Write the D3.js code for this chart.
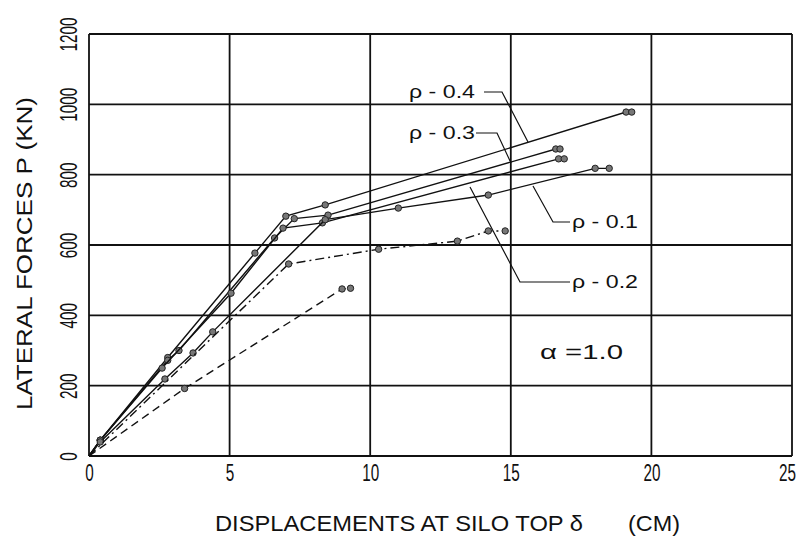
<!DOCTYPE html>
<html><head><meta charset="utf-8">
<script src="https://cdn.jsdelivr.net/npm/d3@7/dist/d3.min.js"></script>
<style>
html,body{margin:0;padding:0;background:#fff;}
svg{display:block;}
text{font-family:"Liberation Sans","DejaVu Sans",sans-serif;fill:#111;}
</style></head>
<body>
<svg id="chart" width="808" height="538"></svg>
<script>
// ---- data ----
const xTicks = [0, 5, 10, 15, 20, 25];
const yTicks = [0, 200, 400, 600, 800, 1000, 1200];

const rho04X = [0, 0.4, 2.8, 5.9, 7.0, 8.4, 19.1, 19.3];
const rho04P = [0, 45, 280, 577, 682, 714, 978, 978];

const rho03X = [0, 0.4, 2.8, 3.2, 6.6, 7.3, 8.5, 16.6, 16.75];
const rho03P = [0, 45, 272, 300, 620, 675, 685, 873, 873];

const rho02X = [0, 0.4, 2.6, 5.05, 6.9, 8.3, 16.7, 16.9];
const rho02P = [0, 45, 250, 463, 648, 663, 845, 845];

const rho01X = [0, 0.4, 2.7, 3.7, 4.4, 8.4, 11.0, 14.2, 18.0, 18.5];
const rho01P = [0, 40, 219, 293, 353, 672, 705, 742, 818, 818];

const dashDotX = [0, 7.1, 10.3, 13.1, 14.2, 14.8];
const dashDotP = [0, 546, 588, 611, 640, 640];

const dashedX = [0, 3.4, 9.0, 9.3];
const dashedP = [0, 192, 475, 477];

const labelTexts = ["\u03C1 - 0.4", "\u03C1 - 0.3", "\u03C1 - 0.1", "\u03C1 - 0.2"];
const alphaText = "\u03B1 =1.0";
const xTitle = "DISPLACEMENTS AT SILO TOP \u03B4";
const xUnit = "(CM)";
const yTitle = "LATERAL FORCES P (KN)";

// ---- layout ----
const svg = d3.select("#chart");
const L = 89, R = 792, T = 34, B = 456;
const x = d3.scaleLinear().domain([0, 25]).range([L, R]);
const y = d3.scaleLinear().domain([0, 1200]).range([B, T]);

// grid
const g = svg.append("g");
g.selectAll(".vg").data(xTicks).join("line")
  .attr("x1", d => x(d)).attr("x2", d => x(d)).attr("y1", T).attr("y2", B)
  .attr("stroke", "#111").attr("stroke-width", 1.8);
g.selectAll(".hg").data(yTicks).join("line")
  .attr("y1", d => y(d)).attr("y2", d => y(d)).attr("x1", L).attr("x2", R)
  .attr("stroke", "#111").attr("stroke-width", 1.8);

const digitW = 8.5;
// axes (labels only, drawn through d3 axis)
const xAxis = svg.append("g").attr("transform", `translate(0,${B})`)
  .call(d3.axisBottom(x).tickValues(xTicks).tickSize(0).tickPadding(9).tickFormat(d3.format("d")));
xAxis.select(".domain").remove();
xAxis.selectAll("text").attr("font-size", 23).attr("font-family", null)
  .attr("textLength", d => String(d).length * digitW).attr("lengthAdjust", "spacingAndGlyphs")
  .attr("dx", d => d === 25 ? -5 : 0);

const yAxis = svg.append("g").attr("transform", `translate(${L},0)`)
  .call(d3.axisLeft(y).tickValues(yTicks).tickSize(0).tickFormat(d3.format("d")));
yAxis.select(".domain").remove();
yAxis.selectAll("text")
  .attr("x", null).attr("dy", null)
  .attr("text-anchor", "middle")
  .attr("font-size", 23).attr("font-family", null)
  .attr("textLength", d => String(d).length * digitW).attr("lengthAdjust", "spacingAndGlyphs")
  .attr("transform", "translate(-12,0) rotate(-90)");

// series
const line = d3.line().x(d => x(d[0])).y(d => y(d[1]));
const series = [
  {xs: rho04X, ps: rho04P, dash: null},
  {xs: rho03X, ps: rho03P, dash: null},
  {xs: rho02X, ps: rho02P, dash: null},
  {xs: rho01X, ps: rho01P, dash: null},
  {xs: dashDotX, ps: dashDotP, dash: "9,4,2,4"},
  {xs: dashedX, ps: dashedP, dash: "8,5"}
];
series.forEach(s => {
  const pts = s.xs.map((v, i) => [v, s.ps[i]]);
  svg.append("path").datum(pts).attr("d", line)
    .attr("fill", "none").attr("stroke", "#111").attr("stroke-width", 1.4)
    .attr("stroke-dasharray", s.dash);
  svg.append("g").selectAll("circle").data(pts.slice(1)).join("circle")
    .attr("cx", d => x(d[0])).attr("cy", d => y(d[1])).attr("r", 3.2)
    .attr("fill", "#777").attr("stroke", "#222").attr("stroke-width", 1);
});

// labels with leader lines
const labels = [
  {t: labelTexts[0], tx: 409, ty: 98, path: [[484, 92], [502, 92], [528, 142]]},
  {t: labelTexts[1], tx: 409, ty: 139, path: [[476, 133], [497, 133], [511, 163]]},
  {t: labelTexts[2], tx: 572, ty: 228, path: [[570, 222], [553, 222], [533, 186]]},
  {t: labelTexts[3], tx: 572, ty: 288, path: [[570, 282], [520, 282], [470, 187]]}
];
labels.forEach(l => {
  svg.append("text").attr("x", l.tx).attr("y", l.ty).attr("font-size", 18)
    .attr("textLength", 66).attr("lengthAdjust", "spacingAndGlyphs").text(l.t);
  svg.append("path").attr("d", d3.line()(l.path))
    .attr("fill", "none").attr("stroke", "#111").attr("stroke-width", 1.2);
});

svg.append("text").attr("x", 540).attr("y", 359).attr("font-size", 21)
  .attr("textLength", 83).attr("lengthAdjust", "spacingAndGlyphs").text(alphaText);

// titles
svg.append("text").attr("x", 215).attr("y", 531).attr("font-size", 22)
  .attr("textLength", 368).attr("lengthAdjust", "spacingAndGlyphs").text(xTitle);
svg.append("text").attr("x", 628).attr("y", 531).attr("font-size", 22)
  .attr("textLength", 52).attr("lengthAdjust", "spacingAndGlyphs").text(xUnit);
svg.append("text").attr("transform", "translate(32,410) rotate(-90)")
  .attr("font-size", 22).attr("textLength", 313).attr("lengthAdjust", "spacingAndGlyphs").text(yTitle);
</script>
</body></html>
